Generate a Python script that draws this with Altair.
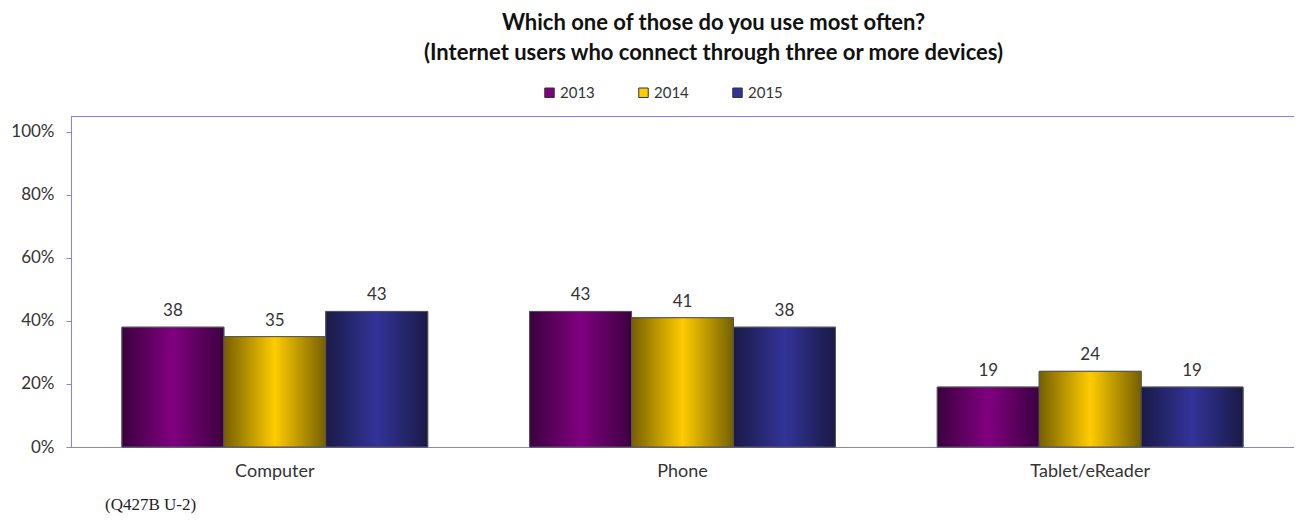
import altair as alt
import pandas as pd

categories = ["Computer", "Phone", "Tablet/eReader"]
years = ["2013", "2014", "2015"]
values_2013 = [38, 43, 19]
values_2014 = [35, 41, 24]
values_2015 = [43, 38, 19]
y_ticks = [0, 20, 40, 60, 80, 100]
title_lines = ["Which one of those do you use most often?",
               "(Internet users who connect through three or more devices)"]
footnote = "(Q427B U-2)"

rows = []
for yr, vals in zip(years, [values_2013, values_2014, values_2015]):
    for c, v in zip(categories, vals):
        rows.append({"device": c, "year": yr, "value": v})
df = pd.DataFrame(rows)

solid = ["#800080", "#ffcc00", "#333399"]
dark = ["#3c003f", "#756000", "#1a1a47"]

AX = "#8080ff"
TXT = "#333333"
FONT = "Lato"

x = alt.X("device:N", sort=categories,
          scale=alt.Scale(paddingInner=0.25, paddingOuter=0.125),
          axis=alt.Axis(title=None, labelAngle=0, ticks=False, labelPadding=15,
                        domainColor=AX, labelFont=FONT, labelFontSize=18, labelColor=TXT))
xo = alt.XOffset("year:N", sort=years, scale=alt.Scale(domain=years, paddingInner=0, paddingOuter=0))
y = alt.Y("value:Q", scale=alt.Scale(domain=[0, 105], nice=False),
          axis=alt.Axis(title=None, values=y_ticks, labelExpr="datum.value + '%'", grid=False,
                        domainColor=AX, tickColor=AX, tickSize=5, labelPadding=12,
                        labelFont=FONT, labelFontSize=17, labelColor=TXT))

base = alt.Chart(df).encode(x=x, xOffset=xo, y=y)

bars = base.mark_bar(stroke="#555555", strokeWidth=1).encode(
    color=alt.Color("year:N", scale=alt.Scale(domain=years, range=solid),
                    legend=alt.Legend(title=None, orient="none", legendX=471, legendY=-31,
                                      direction="horizontal", symbolType="square", symbolSize=90,
                                      symbolStrokeColor="#333333", symbolStrokeWidth=1,
                                      labelFont=FONT, labelFontSize=15, labelColor=TXT,
                                      columnPadding=41, labelOffset=3))
)

layers = [bars]
for yr, c_bright, c_dark in zip(years, solid, dark):
    grad = alt.Gradient(gradient="linear", x1=0, x2=1, y1=0, y2=0,
                        stops=[alt.GradientStop(offset=0, color=c_dark),
                               alt.GradientStop(offset=0.5, color=c_bright),
                               alt.GradientStop(offset=1, color=c_dark)])
    layers.append(base.transform_filter(alt.datum.year == yr)
                  .mark_bar(fill=grad, stroke="#555555", strokeWidth=1))

labels = base.mark_text(dy=-16, font=FONT, fontSize=17, color=TXT).encode(text="value:Q")
layers.append(labels)

foot = alt.Chart(pd.DataFrame({"t": [footnote]})).mark_text(
    align="left", baseline="middle", font="Liberation Serif", fontSize=17, color="#222222"
).encode(x=alt.value(34), y=alt.value(389), text="t:N")
layers.append(foot)

chart = alt.layer(*layers).properties(
    width=1223, height=331,
    background="white",
    title=alt.TitleParams(title_lines, font=FONT, fontSize=22, fontWeight="bold", color="#111111",
                          anchor="middle", dx=31, lineHeight=30, offset=20),
    autosize=alt.AutoSizeParams(type="none"),
    padding={"left": 63, "top": 108, "right": 0, "bottom": 67},
).configure_view(stroke=AX, strokeWidth=1)

chart.save("out.html", embed_options={"renderer": "svg", "actions": False})
